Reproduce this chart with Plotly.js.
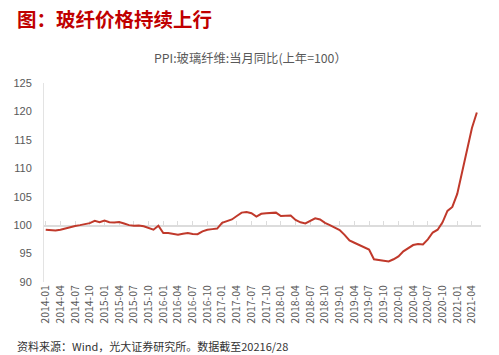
<!DOCTYPE html>
<html>
<head>
<meta charset="utf-8">
<script src="https://cdn.plot.ly/plotly-3.0.1.min.js"></script>
<style>
html,body{margin:0;padding:0;background:#fff;}
#chart{width:499px;height:355px;}
</style>
</head>
<body>
<div id="chart"></div>
<script>
const months = [
 "2014-01","2014-02","2014-03","2014-04","2014-05","2014-06","2014-07","2014-08","2014-09","2014-10","2014-11","2014-12",
 "2015-01","2015-02","2015-03","2015-04","2015-05","2015-06","2015-07","2015-08","2015-09","2015-10","2015-11","2015-12",
 "2016-01","2016-02","2016-03","2016-04","2016-05","2016-06","2016-07","2016-08","2016-09","2016-10","2016-11","2016-12",
 "2017-01","2017-02","2017-03","2017-04","2017-05","2017-06","2017-07","2017-08","2017-09","2017-10","2017-11","2017-12",
 "2018-01","2018-02","2018-03","2018-04","2018-05","2018-06","2018-07","2018-08","2018-09","2018-10","2018-11","2018-12",
 "2019-01","2019-02","2019-03","2019-04","2019-05","2019-06","2019-07","2019-08","2019-09","2019-10","2019-11","2019-12",
 "2020-01","2020-02","2020-03","2020-04","2020-05","2020-06","2020-07","2020-08","2020-09","2020-10","2020-11","2020-12",
 "2021-01","2021-02","2021-03","2021-04","2021-05"
];
const ppiGlassFiber = [
 99.2, 99.15, 99.05, 99.2, 99.45, 99.7, 99.85, 100.0, 100.2, 100.35, 100.75, 100.5,
 100.8, 100.5, 100.45, 100.55, 100.3, 100.0, 99.9, 99.95, 99.8, 99.5, 99.2, 99.9,
 98.6, 98.6, 98.45, 98.3, 98.5, 98.6, 98.45, 98.4, 98.9, 99.2, 99.3, 99.4,
 100.4, 100.7, 101.0, 101.6, 102.2, 102.3, 102.1, 101.5, 102.0, 102.1, 102.2, 102.2,
 101.6, 101.6, 101.7, 100.9, 100.5, 100.3, 100.7, 101.2, 101.0, 100.4, 100.0, 99.5,
 99.15, 98.3, 97.3, 96.9, 96.5, 96.2, 95.7, 94.0, 93.9, 93.7, 93.6, 94.0,
 94.5, 95.4, 95.9, 96.5, 96.7, 96.6, 97.5, 98.7, 99.2, 100.5, 102.5, 103.2,
 105.5, 109.5, 113.5, 117.1, 119.8
];
const tickLabels = [
 "2014-01","2014-04","2014-07","2014-10","2015-01","2015-04","2015-07","2015-10",
 "2016-01","2016-04","2016-07","2016-10","2017-01","2017-04","2017-07","2017-10",
 "2018-01","2018-04","2018-07","2018-10","2019-01","2019-04","2019-07","2019-10",
 "2020-01","2020-04","2020-07","2020-10","2021-01","2021-04"
];
const yTicks = [90, 95, 100, 105, 110, 115, 120, 125];
const mainTitle = "图：玻纤价格持续上行";
const chartTitle = "PPI:玻璃纤维:当月同比(上年=100）";
const sourceNote = "资料来源：Wind，光大证券研究所。数据截至20216/28";

const yMin = 90, yMax = 125, baseLine = 100;
const xRange = [-0.35, months.length - 0.15];
const cjk = '"Noto Sans CJK SC", "Noto Sans", sans-serif';

const traces = [
  {
    x: months, y: ppiGlassFiber, type: 'scatter', mode: 'lines',
    line: {color: '#c0392b', width: 2}, xaxis: 'x', yaxis: 'y', hoverinfo: 'x+y'
  },
  {
    x: months, y: ppiGlassFiber, type: 'scatter', mode: 'lines',
    line: {color: 'rgba(0,0,0,0)', width: 0}, xaxis: 'x2', yaxis: 'y',
    hoverinfo: 'skip', showlegend: false
  }
];

const layout = {
  width: 499, height: 355,
  margin: {l: 44, r: 18, t: 83, b: 73},
  paper_bgcolor: '#fff', plot_bgcolor: '#fff',
  showlegend: false,
  font: {family: cjk, color: '#595959'},
  xaxis: {
    type: 'category', categoryorder: 'array', categoryarray: months,
    range: xRange, tickmode: 'array', tickvals: tickLabels, ticktext: tickLabels,
    tickangle: -90, tickfont: {size: 10.5, color: '#595959', family: cjk},
    showgrid: false, zeroline: false, showline: false, ticks: '', fixedrange: true
  },
  xaxis2: {
    type: 'category', categoryorder: 'array', categoryarray: months,
    overlaying: 'x', anchor: 'free', position: (baseLine - yMin) / (yMax - yMin), side: 'top',
    range: xRange, tickmode: 'array', tickvals: tickLabels, layer: 'below traces',
    showticklabels: false, ticks: 'outside', ticklen: 4, tickwidth: 1, tickcolor: '#dcdcdc',
    showline: true, linecolor: '#dcdcdc', linewidth: 1.5,
    showgrid: false, zeroline: false, fixedrange: true
  },
  yaxis: {
    range: [yMin, yMax], tickmode: 'array', tickvals: yTicks,
    tickfont: {size: 11, color: '#595959', family: 'Liberation Sans, Arial, sans-serif'},
    showgrid: false, zeroline: false, layer: 'below traces',
    showline: true, linecolor: '#e3e3e3', linewidth: 1,
    ticks: 'outside', ticklen: 9, tickcolor: 'rgba(0,0,0,0)', fixedrange: true
  },
  annotations: [
    {text: '<b>' + mainTitle + '</b>', xref: 'paper', yref: 'paper', x: -44/437, y: 1 + 65/199,
     xanchor: 'left', yanchor: 'middle', showarrow: false, xshift: 15,
     font: {size: 19.5, color: '#c00000', family: cjk}},
    {text: chartTitle, xref: 'paper', yref: 'paper', x: 0.466, y: 1 + 25/199,
     xanchor: 'center', yanchor: 'middle', showarrow: false, xshift: 3,
     font: {size: 12.3, color: '#595959', family: cjk}},
    {text: sourceNote, xref: 'paper', yref: 'paper', x: -44/437, y: -64/199,
     xanchor: 'left', yanchor: 'middle', showarrow: false, xshift: 15,
     font: {size: 11, color: '#333333', family: cjk}}
  ]
};

Plotly.newPlot('chart', traces, layout, {displayModeBar: false, staticPlot: true});
</script>
</body>
</html>
